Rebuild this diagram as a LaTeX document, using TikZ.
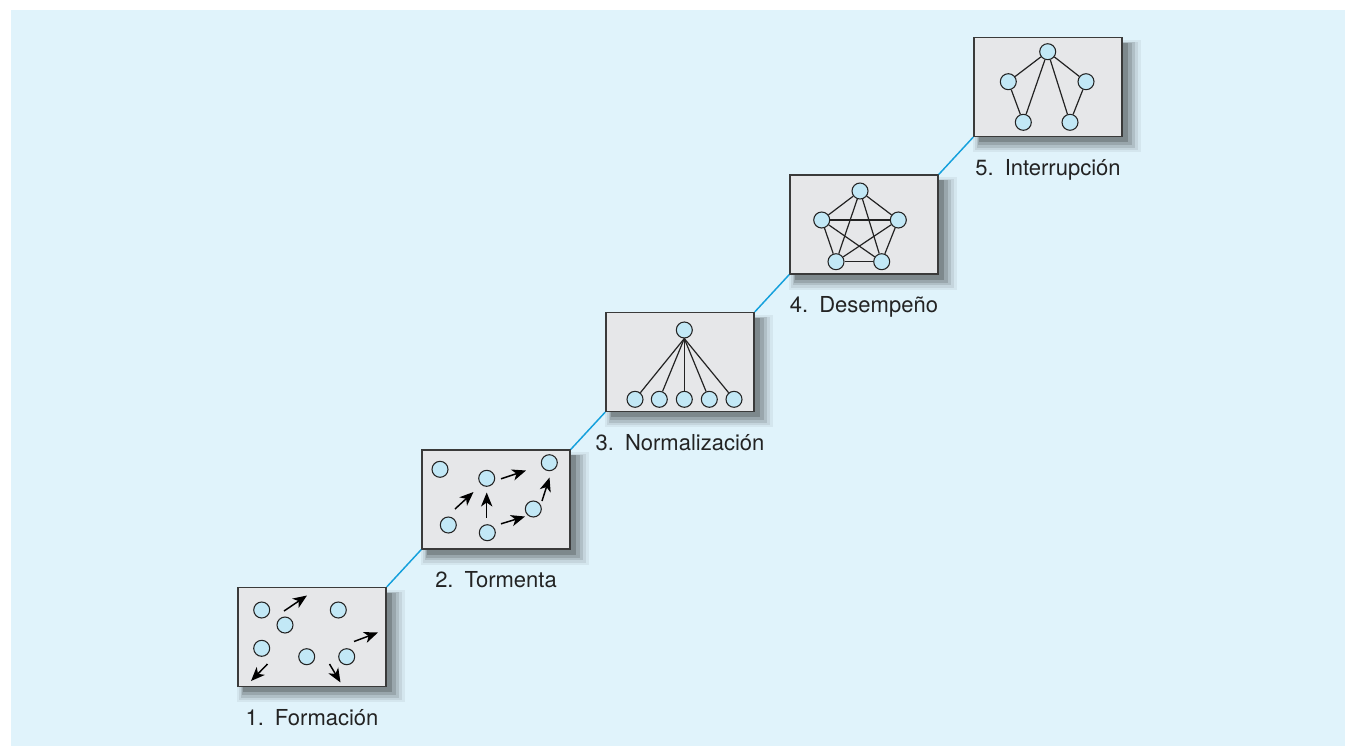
\documentclass[tikz,border=0pt]{standalone}
\usepackage{fontspec}
\setmainfont{TeX Gyre Heros}
\usetikzlibrary{arrows.meta,positioning,shadows}
\definecolor{panel}{RGB}{224,243,251}
\definecolor{stageline}{RGB}{20,160,220}
\definecolor{boxgray}{RGB}{230,231,233}
\definecolor{edgegray}{RGB}{58,58,58}
\definecolor{memberblue}{RGB}{194,232,246}
\definecolor{inkdark}{RGB}{35,35,35}
\tikzset{
  softshadow/.style={
    general shadow={fill=black,opacity=.05,shadow xshift=6pt,shadow yshift=-6pt,shadow scale=1.14},
    general shadow={fill=black,opacity=.07,shadow xshift=6pt,shadow yshift=-6pt,shadow scale=1.10},
    general shadow={fill=black,opacity=.10,shadow xshift=5.5pt,shadow yshift=-5.5pt,shadow scale=1.07},
    general shadow={fill=black,opacity=.13,shadow xshift=5pt,shadow yshift=-5pt,shadow scale=1.04},
    general shadow={fill=black,opacity=.18,shadow xshift=4pt,shadow yshift=-4pt,shadow scale=1.01}},
  stagebox/.style={draw=edgegray,line width=1.1pt,fill=boxgray,minimum width=111pt,minimum height=74pt,inner sep=0pt,softshadow},
  member/.style={circle,draw=inkdark,line width=0.8pt,fill=memberblue,minimum size=12pt,inner sep=0pt},
  tie/.style={draw=inkdark,line width=0.9pt},
  move/.style={-{Stealth[length=10.5pt,width=8.5pt,inset=3pt]},draw=black,line width=1.1pt},
  link/.style={draw=stageline,line width=1.1pt},
  stagelabel/.style={font=\fontsize{16.5}{20}\selectfont,text=inkdark,anchor=base}
}

\begin{document}
\begin{tikzpicture}[x=0.75pt,y=-0.75pt]
\useasboundingbox (0,0) rectangle (1345,746);
\fill[panel] (11,10) rectangle (1345,746);

% stage boxes
\foreach \i in {1,...,5}
  \node[stagebox] (b\i) at ({312+184*(\i-1)},{637-137.5*(\i-1)}) {};
\foreach \i/\j in {1/2,2/3,3/4,4/5}
  \draw[link] (b\i.north east) -- (b\j.south west);

% labels
\node[stagelabel] (l1) at ([yshift=-28.5pt]b1.south) {1.\enspace Formación};
\node[stagelabel] (l2) at ([yshift=-28.5pt]b2.south) {2.\enspace Tormenta};
\node[stagelabel] (l3) at ([yshift=-28.5pt]b3.south) {3.\enspace Normalización};
\node[stagelabel] (l4) at ([yshift=-28.5pt]b4.south) {4.\enspace Desempeño};
\node[stagelabel] (l5) at ([yshift=-28.5pt]b5.south) {5.\enspace Interrupción};

% 1: forming
\node[member] (f1) at (261.7,610) {};
\node[member] (f2) at (285,625) {};
\node[member] (f3) at (338.3,610) {};
\node[member] (f4) at (261.7,648.3) {};
\node[member] (f5) at (306.7,656.7) {};
\node[member] (f6) at (346.7,656.7) {};
\draw[move] (284,611) -- (307,595.5);
\draw[move] (354,641.5) -- (378,632.5);
\draw[move] (267.5,664) -- (251,681);
\draw[move] (329.5,664) -- (340.5,682.5);

% 2: storming
\node[member] (s1) at (440,469.3) {};
\node[member] (s2) at (486.7,478.3) {};
\node[member] (s3) at (549.3,462.7) {};
\node[member] (s4) at (448.3,525) {};
\node[member] (s5) at (487.3,532.7) {};
\node[member] (s6) at (533.3,509) {};
\draw[move] (501,478.8) -- (526,470.5);
\draw[move] (455,509) -- (473.5,492);
\draw[move] (486.7,517.5) -- (486.7,492.5);
\draw[move] (501,523.8) -- (525,516.5);
\draw[move] (542,501) -- (549.5,477.5);

% 3: norming
\node[member] (n0) at (684.3,330) {};
\foreach \k/\x in {1/635,2/659.3,3/684.3,4/709.3,5/734} {
  \node[member] (n\k) at (\x,399.3) {};
  \draw[tie] (n0.south) -- (n\k);
}

% 4: performing
\node[member] (p1) at (860,191) {};
\node[member] (p2) at (898.3,220) {};
\node[member] (p3) at (881.7,261.7) {};
\node[member] (p4) at (836,261.7) {};
\node[member] (p5) at (821.7,220) {};
\foreach \a/\b in {1/2,1/3,1/4,1/5,2/3,2/4,2/5,3/4,3/5,4/5}
  \draw[tie] (p\a) -- (p\b);

% 5: adjourning
\node[member] (a1) at (1047.7,51.7) {};
\node[member] (a2) at (1086,81.7) {};
\node[member] (a3) at (1070,122.3) {};
\node[member] (a4) at (1023.3,122.3) {};
\node[member] (a5) at (1008.3,81.7) {};
\foreach \a/\b in {1/2,2/3,1/3,1/4,1/5,5/4}
  \draw[tie] (a\a) -- (a\b);
\end{tikzpicture}
\end{document}
